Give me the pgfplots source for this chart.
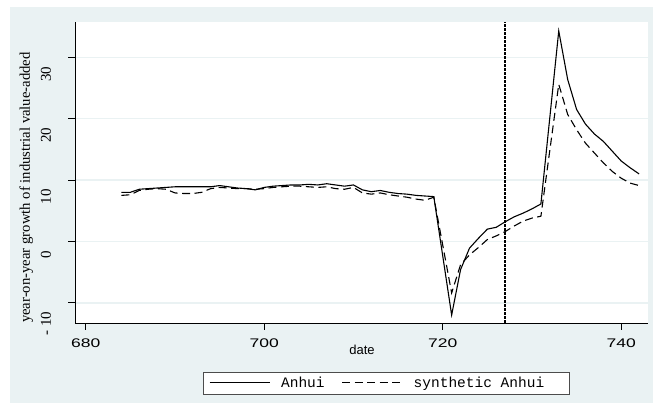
\documentclass[border=0pt]{standalone}
\usepackage{fontspec}
\setmainfont{Liberation Serif}
\setsansfont{Liberation Sans}
\newfontfamily\monofont{Liberation Mono}
\usepackage{pgfplots}
\pgfplotsset{compat=1.18}
\definecolor{ltbg}{RGB}{234,242,243}

\pgfplotstableread{
x y
684 8.0
685 8.0
686 8.5
687 8.6
688 8.7
689 8.8
690 8.9
691 8.9
692 8.9
693 8.9
694 8.9
695 9.1
696 8.9
697 8.7
698 8.6
699 8.4
700 8.8
701 9.0
702 9.1
703 9.2
704 9.2
705 9.3
706 9.2
707 9.4
708 9.2
709 9.0
710 9.2
711 8.4
712 8.1
713 8.3
714 8.0
715 7.8
716 7.7
717 7.5
718 7.4
719 7.3
721 -12.0
722 -4.6
723 -1.1
724 0.5
725 2.0
726 2.3
727 3.2
728 4.0
729 4.6
730 5.3
731 6.1
733 34.3
734 26.4
735 21.5
736 19.1
737 17.5
738 16.3
739 14.7
740 13.1
741 12.0
742 11.0
}\anhui

\pgfplotstableread{
x y
684 7.5
685 7.6
686 8.3
687 8.5
688 8.6
689 8.5
690 7.9
691 7.8
692 7.8
693 8.0
694 8.6
695 8.8
696 8.7
697 8.6
698 8.6
699 8.5
700 8.6
701 8.8
702 8.9
703 9.0
704 9.0
705 8.9
706 8.8
707 8.9
708 8.6
709 8.5
710 8.8
711 7.9
712 7.7
713 7.9
714 7.6
715 7.4
716 7.2
717 6.9
718 6.7
719 7.2
721 -8.4
722 -3.8
723 -2.2
724 -1.0
725 0.3
726 0.9
727 1.6
728 2.5
729 3.3
730 3.8
731 4.1
733 25.6
734 20.7
735 18.2
736 16.0
737 14.4
738 12.8
739 11.4
740 10.3
741 9.5
742 9.1
}\synth

\begin{document}
\begin{tikzpicture}
\useasboundingbox (0,0) rectangle (653pt,406pt);
\fill[ltbg] (10pt,3pt) rectangle (653pt,399pt);
\begin{axis}[
  at={(75pt,83pt)}, anchor=south west,
  scale only axis, width=573pt, height=301pt,
  xmin=678.8, xmax=743, ymin=-13.3, ymax=35.76,
  axis background/.style={fill=white},
  axis x line*=bottom, axis y line*=left,
  axis line style={black, line width=0.9pt},
  tick align=outside, major tick length=7pt,
  tick style={black, line width=0.9pt},
  xtick={680,700,720,740}, xticklabels={680,700,720,740},
  ytick={-10,0,10,20,30},
  yticklabels={\rotatebox{90}{- 10},\rotatebox{90}{0},\rotatebox{90}{10},\rotatebox{90}{20},\rotatebox{90}{30}},
  x tick label style={font=\sffamily\fontsize{12.5}{13}\selectfont, xscale=1.4, yshift=-5pt},
  y tick label style={font=\rmfamily\fontsize{15}{15}\selectfont, anchor=north, inner sep=0pt, xshift=-22pt, yshift=-9pt},
  ymajorgrids, grid style={ltbg, line width=1.5pt},
  xlabel={date}, ylabel={year-on-year growth of industrial value-added},
  every axis x label/.style={at={(axis description cs:0.501,-0.09)}, anchor=center, font=\sffamily\fontsize{13}{13}\selectfont},
  every axis y label/.style={at={(axis description cs:-0.085,0.45)}, rotate=90, anchor=center, font=\rmfamily\fontsize{14.7}{15}\selectfont},
  legend style={at={(0.543,-0.199)}, anchor=center, legend columns=2,
    draw=black!70, fill=white, line width=0.6pt,
    font=\monofont\fontsize{14.5}{15}\selectfont,
    inner xsep=6pt, inner ysep=3pt,
    /tikz/every odd column/.append style={column sep=9pt},
    /tikz/every even column/.append style={column sep=15pt}},
  legend image code/.code={\draw[#1] (0pt,0pt) -- (60pt,0pt);},
]
\addplot[black, line width=1.1pt] table[x=x, y=y] {\anhui};
\addlegendentry{Anhui}
\addplot[black, line width=1.1pt, dash pattern=on 8pt off 4.5pt] table[x=x, y=y] {\synth};
\addlegendentry{synthetic Anhui\rule{17pt}{0pt}}
\addplot[black, line width=1.6pt, dash pattern=on 2.5pt off 1.5pt, forget plot] coordinates {(727,-13.3) (727,35.76)};
\end{axis}
\end{tikzpicture}
\end{document}
